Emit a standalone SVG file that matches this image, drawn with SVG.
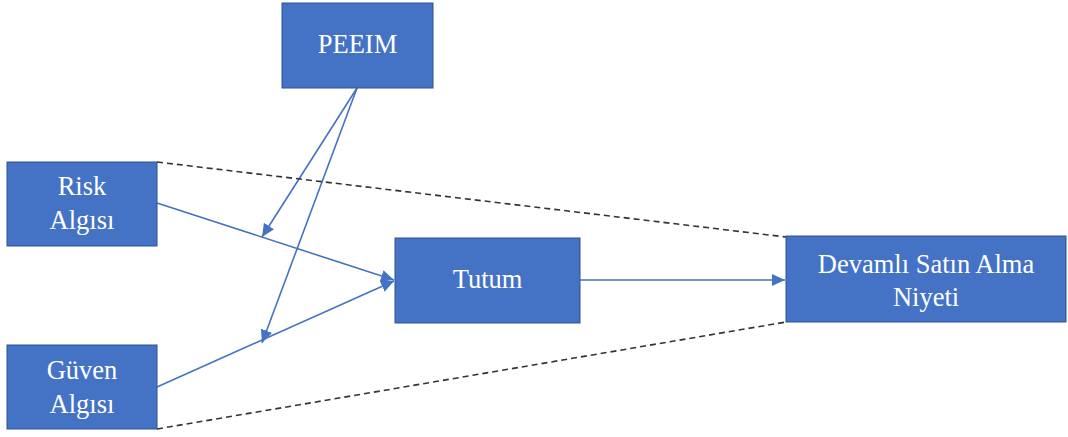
<svg xmlns="http://www.w3.org/2000/svg" width="1068" height="437" viewBox="0 0 1068 437">
  <style>
    .box { fill: #4472C4; stroke: #2F528F; stroke-width: 1; }
    .lbl { fill: #FFFFFF; font-family: "Liberation Serif", "Times New Roman", serif; font-size: 26.5px; text-anchor: middle; }
    .link { stroke: #4472C4; stroke-width: 1.6; fill: none; marker-end: url(#arrow); }
    .dash { stroke: #333333; stroke-width: 1.6; fill: none; stroke-dasharray: 6 4; }
  </style>
  <defs>
    <marker id="arrow" markerUnits="userSpaceOnUse" markerWidth="14" markerHeight="12" refX="13" refY="6" orient="auto">
      <path d="M0,0 L13,6 L0,12 Z" fill="#4472C4"/>
    </marker>
  </defs>
  <rect width="1068" height="437" fill="#FFFFFF"/>

  <g id="connectors">
    <!-- moderation and main paths -->
    <line class="link" x1="157" y1="203" x2="394" y2="280"/>
    <line class="link" x1="157" y1="387" x2="394" y2="281"/>
    <line class="link" x1="357" y1="88" x2="262" y2="237"/>
    <line class="link" x1="357" y1="88" x2="262" y2="343"/>
    <line class="link" x1="580" y1="280" x2="785" y2="280"/>
    <!-- dashed envelope -->
    <line class="dash" x1="157" y1="162" x2="786" y2="237"/>
    <line class="dash" x1="157" y1="429" x2="786" y2="322"/>
  </g>

  <g id="peeim">
    <rect class="box" x="282" y="3" width="151" height="85"/>
    <text class="lbl" x="357.5" y="53">PEEIM</text>
  </g>

  <g id="risk">
    <rect class="box" x="7" y="162" width="150" height="84"/>
    <text class="lbl" x="82" y="195">Risk</text>
    <text class="lbl" x="82" y="229">Algısı</text>
  </g>

  <g id="guven">
    <rect class="box" x="7" y="345" width="150" height="84"/>
    <text class="lbl" x="82" y="379">Güven</text>
    <text class="lbl" x="82" y="413">Algısı</text>
  </g>

  <g id="tutum">
    <rect class="box" x="395" y="238" width="185" height="85"/>
    <text class="lbl" x="487.5" y="288">Tutum</text>
  </g>

  <g id="niyet">
    <rect class="box" x="786" y="236" width="280" height="86"/>
    <text class="lbl" x="926" y="273">Devamlı Satın Alma</text>
    <text class="lbl" x="926" y="306">Niyeti</text>
  </g>
</svg>
